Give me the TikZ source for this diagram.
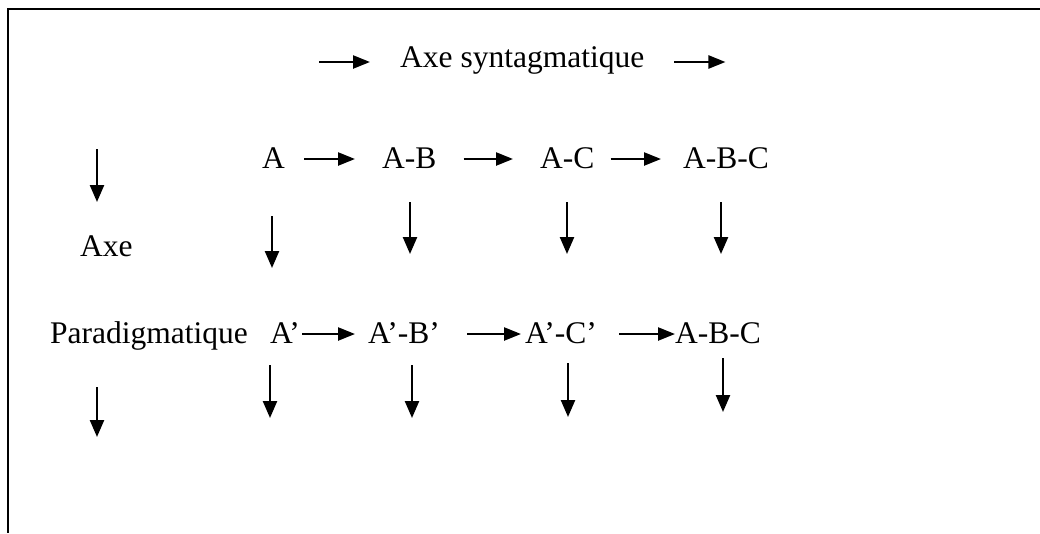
\documentclass[tikz,border=0pt]{standalone}
\usepackage{fontspec}
\setmainfont{Liberation Serif}
\usepackage{tikz}
\usetikzlibrary{arrows.meta}

\begin{document}
\begin{tikzpicture}[x=1pt, y=-1pt,
    harr/.style={-{Triangle[length=17pt,width=13pt]}, line width=2.4pt},
    varr/.style={-{Triangle[length=17pt,width=14pt]}, line width=2.4pt},
    lbl/.style={inner sep=0pt, anchor=west, text height=18pt, text depth=0pt, font=\fontsize{31.5pt}{36pt}\selectfont}]

\useasboundingbox (0,0) rectangle (1040,533);

% frame (only top and left edges show)
\draw[line width=2pt] (1040,9) -- (8,9) -- (8,533);

% title
\node[lbl] (title) at (400,58) {Axe syntagmatique};
\draw[harr] ([xshift=-81pt,yshift=-4pt]title.west) -- ([xshift=-30pt,yshift=-4pt]title.west);
\draw[harr] ([xshift=30pt,yshift=-4pt]title.east) -- ([xshift=81pt,yshift=-4pt]title.east);

% first row
\node[lbl] (a) at (262,159) {A};
\node[lbl] (ab) at (382,159) {A-B};
\node[lbl] (ac) at (540,159) {A-C};
\node[lbl] (abc) at (683,159) {A-B-C};

\draw[harr] ([xshift=19pt]a.east) -- ([xshift=-27pt]ab.west);
\draw[harr] ([xshift=27pt]ab.east) -- ([xshift=-27pt]ac.west);
\draw[harr] ([xshift=16pt]ac.east) -- ([xshift=-22pt]abc.west);

% left labels
\node[lbl] (axe) at (80,247) {Axe};
\node[lbl] (para) at (50,334) {Paradigmatique};

% second row
\node[lbl] (ap) at (270,334) {A’};
\node[lbl] (apbp) at (368,334) {A’-B’};
\node[lbl] (apcp) at (525,334) {A’-C’};
\node[lbl] (abcb) at (675,334) {A-B-C};

\draw[harr] ([xshift=2pt]ap.east) -- ([xshift=-13pt]apbp.west);
\draw[harr] ([xshift=27pt]apbp.east) -- ([xshift=-4pt]apcp.west);
\draw[harr] ([xshift=22pt]apcp.east) -- (abcb.west);

% vertical arrows
\foreach \n/\x/\ya/\yb in {l1/97/149/202, l2/97/387/437,
    c1/272/216/268, c2/410/202/254, c3/567/202/254, c4/721/202/254,
    d1/270/365/418, d2/412/365/418, d3/568/363/417, d4/723/358/412} {
  \coordinate (\n s) at (\x,\ya);
  \coordinate (\n e) at (\x,\yb);
  \draw[varr] (\n s) -- (\n e);
}

\end{tikzpicture}
\end{document}
